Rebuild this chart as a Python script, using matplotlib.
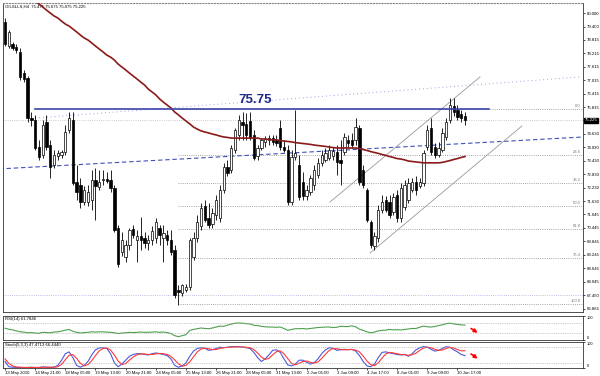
import numpy as np
import matplotlib
matplotlib.use("Agg")
import matplotlib.pyplot as plt
from matplotlib.transforms import blended_transform_factory

plt.rcParams['font.family'] = ['Liberation Sans', 'DejaVu Sans']

# H4 candles (open, high, low, close)
opens = [79.60, 78.53, 78.62, 78.49, 78.27, 77.33, 77.11, 75.33, 75.24, 74.04,
         73.69, 75.16, 74.13, 73.24, 73.64, 73.69, 73.82, 74.80, 75.24, 72.49,
         72.36, 71.60, 71.60, 71.69, 72.58, 72.27, 72.58, 72.62, 72.58, 72.22,
         70.44, 69.38, 69.16, 69.69, 70.40, 69.91, 70.09, 70.00, 69.78, 69.91,
         70.00, 70.44, 70.00, 70.13, 69.91, 69.47, 67.69, 67.56, 67.69, 67.82,
         69.16, 70.00, 70.53, 71.42, 70.89, 70.62, 71.02, 70.89, 72.13, 73.16,
         73.02, 73.91, 74.58, 75.16, 75.07, 75.20, 74.58, 73.64, 74.00, 74.27,
         74.36, 74.44, 74.36, 74.89, 74.04, 73.91, 71.60, 73.60, 73.24, 72.49,
         71.87, 72.04, 72.36, 72.80, 73.34, 73.47, 73.56, 73.64, 73.82, 73.47,
         73.82, 74.36, 74.36, 74.36, 74.89, 73.02, 72.13, 70.71, 69.64, 70.00,
         71.24, 71.69, 71.60, 71.16, 71.91, 70.89, 71.38, 71.69, 72.13, 72.49,
         72.31, 72.45, 74.04, 74.89, 74.04, 73.69, 73.91, 74.49, 75.24, 75.87,
         75.69, 75.51, 75.42]
highs = [79.78, 79.24, 78.71, 78.62, 78.44, 77.47, 77.20, 75.60, 75.47, 74.36,
         75.24, 75.47, 74.36, 73.91, 73.91, 73.91, 75.02, 75.60, 75.60, 73.24,
         72.67, 72.31, 72.36, 73.02, 73.11, 73.02, 73.02, 72.93, 73.02, 72.36,
         70.58, 70.27, 69.91, 70.44, 70.58, 70.36, 70.93, 70.27, 70.13, 70.53,
         70.89, 70.58, 70.58, 70.36, 70.36, 69.69, 67.91, 67.96, 67.96, 70.00,
         70.27, 71.02, 71.56, 71.69, 71.56, 71.34, 71.91, 72.36, 73.34, 73.47,
         74.13, 74.89, 75.47, 75.60, 75.56, 75.60, 74.80, 74.13, 74.44, 74.53,
         74.58, 74.58, 74.58, 75.24, 74.36, 74.13, 73.91, 75.69, 73.69, 72.93,
         72.36, 72.80, 73.24, 73.56, 73.91, 74.00, 74.13, 74.04, 74.13, 74.36,
         74.67, 74.58, 74.67, 75.33, 75.02, 73.24, 72.22, 70.80, 70.27, 71.47,
         71.91, 71.87, 71.91, 72.00, 72.13, 72.45, 72.58, 72.67, 72.67, 72.76,
         72.67, 73.91, 75.02, 75.33, 74.22, 74.27, 74.89, 75.33, 76.22, 76.22,
         75.91, 75.69, 75.60]
lows = [78.53, 78.44, 78.36, 78.22, 77.02, 76.93, 75.16, 74.98, 73.91, 73.47,
        73.56, 73.91, 72.67, 73.11, 73.47, 73.56, 73.69, 74.67, 72.36, 71.69,
        71.34, 71.47, 71.42, 71.24, 70.80, 72.13, 72.36, 72.45, 72.04, 70.27,
        68.71, 69.20, 68.93, 69.47, 70.00, 68.93, 69.47, 69.56, 69.47, 69.69,
        69.78, 69.69, 68.93, 69.69, 69.24, 67.34, 67.02, 67.42, 67.60, 67.69,
        69.02, 69.82, 70.36, 70.71, 70.44, 70.44, 70.80, 70.71, 72.00, 72.76,
        72.89, 73.78, 74.36, 74.36, 74.36, 74.36, 73.47, 73.47, 73.91, 74.04,
        74.13, 74.13, 74.09, 73.91, 73.82, 71.47, 71.47, 73.47, 71.69, 71.69,
        71.69, 71.91, 72.13, 72.67, 73.20, 73.38, 73.47, 73.47, 72.80, 72.36,
        73.69, 74.04, 74.00, 74.13, 72.36, 72.22, 70.71, 69.56, 69.47, 69.82,
        71.11, 71.16, 70.89, 71.02, 70.71, 70.71, 71.24, 71.56, 72.04, 71.91,
        72.22, 72.31, 73.91, 73.69, 73.56, 73.60, 73.82, 74.36, 75.11, 75.42,
        75.24, 75.16, 75.02]
closes = [78.62, 79.16, 78.44, 78.36, 77.16, 77.07, 75.33, 75.24, 74.00, 73.60,
          75.02, 74.04, 73.16, 73.69, 73.78, 73.82, 74.71, 75.33, 72.45, 72.04,
          71.60, 72.13, 72.04, 72.58, 72.31, 72.49, 72.62, 72.54, 72.22, 70.36,
          68.84, 69.91, 69.69, 70.36, 70.13, 70.09, 69.91, 69.78, 69.91, 70.31,
          70.71, 70.13, 70.22, 69.91, 69.38, 67.47, 67.60, 67.91, 67.82, 69.91,
          70.00, 70.71, 71.34, 70.80, 70.58, 71.11, 71.69, 72.13, 73.16, 72.89,
          74.00, 74.80, 75.24, 75.02, 74.58, 74.49, 73.56, 74.00, 74.36, 74.40,
          74.44, 74.27, 74.22, 74.04, 73.91, 71.60, 73.60, 73.78, 71.82, 71.87,
          72.13, 72.67, 73.02, 73.34, 73.69, 73.78, 73.91, 73.87, 73.38, 73.34,
          74.49, 74.22, 74.13, 74.93, 72.49, 72.36, 70.80, 69.69, 70.09, 71.24,
          71.60, 71.24, 71.02, 71.82, 70.89, 72.22, 72.36, 72.45, 72.49, 72.13,
          72.49, 73.78, 74.80, 73.82, 73.69, 74.00, 74.67, 75.16, 75.91, 75.60,
          75.38, 75.33, 75.225]

# moving average (dark red)
ma = [81.47, 81.33, 81.20, 81.11, 80.98, 80.84, 80.71, 80.62, 80.53, 80.40,
      80.27, 80.13, 80.00, 79.87, 79.78, 79.64, 79.51, 79.42, 79.29, 79.16,
      79.02, 78.89, 78.80, 78.67, 78.53, 78.40, 78.27, 78.13, 78.04, 77.91,
      77.73, 77.60, 77.47, 77.33, 77.20, 77.07, 76.93, 76.80, 76.62, 76.49,
      76.36, 76.18, 76.04, 75.91, 75.78, 75.60, 75.47, 75.33, 75.20, 75.07,
      74.93, 74.84, 74.76, 74.71, 74.67, 74.62, 74.58, 74.53, 74.49, 74.47,
      74.44, 74.44, 74.44, 74.44, 74.44, 74.44, 74.44, 74.44, 74.40, 74.40,
      74.38, 74.36, 74.36, 74.33, 74.31, 74.29, 74.27, 74.24, 74.22, 74.20,
      74.18, 74.16, 74.13, 74.11, 74.09, 74.07, 74.04, 74.02, 74.00, 74.00,
      74.00, 74.00, 74.00, 74.00, 73.98, 73.93, 73.89, 73.84, 73.80, 73.76,
      73.71, 73.67, 73.62, 73.58, 73.53, 73.51, 73.47, 73.42, 73.40, 73.38,
      73.36, 73.34, 73.34, 73.34, 73.34, 73.34, 73.36, 73.40, 73.44, 73.49,
      73.53, 73.58, 73.62]

rsi = [49, 45, 42, 38, 34, 33, 30, 31, 29, 28,
       32, 31, 30, 33, 34, 37, 41, 44, 36, 32,
       29, 31, 32, 34, 33, 34, 34, 33, 32, 30,
       27, 29, 30, 32, 31, 32, 33, 32, 32, 33,
       34, 32, 33, 31, 27, 18, 14, 18, 22, 40,
       44, 47, 50, 48, 47, 50, 54, 58, 57, 62,
       66, 70, 71, 70, 68, 67, 61, 60, 57, 55,
       54, 54, 53, 54, 48, 40, 44, 47, 47, 48,
       46, 48, 50, 52, 53, 54, 54, 52, 53, 57,
       56, 56, 59, 55, 45, 40, 34, 30, 33, 38,
       40, 41, 44, 42, 43, 42, 44, 46, 48, 48,
       53, 58, 55, 54, 56, 60, 63, 68, 70, 67,
       65, 63, 61.78]

stoch_k = [25, 5, 3, 2, 2, 2, 2, 3, 2, 2,
           4, 3, 2, 3, 10, 30, 55, 62, 40, 10,
           3, 10, 25, 50, 70, 77, 78, 75, 55, 20,
           5, 15, 30, 45, 52, 55, 55, 52, 50, 55,
           58, 55, 52, 48, 35, 10, 3, 8, 20, 45,
           65, 75, 78, 76, 68, 70, 75, 80, 78, 80,
           82, 82, 82, 80, 78, 75, 60, 40, 25, 35,
           50, 68, 70, 60, 35, 12, 8, 15, 30, 30,
           22, 15, 20, 35, 55, 70, 78, 76, 68, 70,
           72, 70, 72, 65, 48, 25, 8, 5, 15, 40,
           60, 62, 58, 55, 52, 50, 52, 45, 55, 70,
           78, 82, 80, 72, 65, 68, 75, 82, 80, 70,
           62, 52, 47.47]
stoch_d = [35, 18, 8, 4, 3, 2, 2, 2, 2, 2,
           3, 3, 3, 3, 5, 14, 32, 49, 52, 37,
           18, 8, 13, 28, 48, 66, 75, 77, 69, 50,
           27, 13, 17, 30, 42, 51, 54, 54, 52, 52,
           54, 56, 55, 52, 45, 31, 16, 7, 10, 24,
           43, 62, 73, 76, 74, 71, 71, 75, 78, 79,
           80, 81, 81, 81, 80, 78, 71, 58, 42, 33,
           37, 51, 63, 66, 55, 36, 18, 12, 18, 25,
           27, 22, 19, 23, 37, 53, 68, 75, 74, 71,
           70, 71, 71, 69, 62, 46, 27, 13, 9, 20,
           38, 54, 60, 58, 55, 52, 51, 49, 51, 57,
           68, 77, 80, 78, 72, 68, 69, 75, 79, 77,
           71, 66, 66.44]

time_labels = ["13 May 2010", "14 May 21:00", "18 May 05:00", "19 May 13:00",
               "20 May 21:00", "24 May 05:00", "25 May 13:00", "26 May 21:00",
               "28 May 05:00", "31 May 13:00", "2 Jun 01:00", "3 Jun 09:00",
               "4 Jun 17:00", "8 Jun 01:00", "9 Jun 09:00", "10 Jun 17:00"]
price_ticks = [80.000, 79.400, 78.815, 78.215, 77.615, 77.015, 76.415, 75.815,
               74.630, 74.030, 73.430, 72.830, 72.230, 71.630, 71.045, 70.445,
               69.845, 69.245, 68.645, 68.045, 67.450, 66.865]

fib_high = 75.75
fib_low = 67.08
fib_ratios = [0.0, 23.6, 38.2, 50.0, 61.8, 76.4, 100.0]

# trend lines: (bar, price) pairs
blue_trend = ([-1.5, 153.5], [73.07, 74.49])
light_trend = ([8, 152.5], [75.33, 77.16])
channel_up = ([86.2, 126.0], [71.60, 77.16])
channel_dn = ([96.8, 137.1], [69.33, 74.98])
bid = 75.225

n = len(closes)
x = np.arange(n)
o = np.array(opens); c = np.array(closes)
h = np.array(highs); l = np.array(lows)

fig = plt.figure(figsize=(6, 3.76), dpi=100)
ax = fig.add_axes([3/600, 1 - 312/376, 580/600, 309/376])
ax_rsi = fig.add_axes([3/600, 1 - 340/376, 580/600, 24/376])
ax_st = fig.add_axes([3/600, 1 - 368/376, 580/600, 26/376])

xl = (-0.53, 153.3)
dot = (0, (1, 1.6))
fs = 3.1   # tiny MT4 style labels

# --- main price panel ---
ax.set_xlim(*xl)
ax.set_ylim(66.71, 80.445)

# fibonacci levels
for r in fib_ratios:
    lv = fib_high - (fib_high - fib_low) * r / 100
    ax.plot([46, xl[1]], [lv, lv], color='#888888', lw=0.6, ls=dot, zorder=1)
    ax.text(152.6, lv + 0.03, "%.1f" % r, ha='right', va='bottom',
            fontsize=3.0, color='#777777')

ax.axhline(bid, color='#bbbbbb', lw=0.6, ls=dot, zorder=1)
ax.axhline(67.47, color='#aaaadd', lw=0.6, ls=dot, zorder=1)

ax.plot(*light_trend, color='#a0a0e0', lw=0.7, ls=(0, (1, 3)), zorder=1)
ax.plot(*blue_trend, color='#4050b8', lw=0.8, ls=(0, (4, 2.5)), zorder=2)
ax.plot(*channel_up, color='#999999', lw=0.6, zorder=2)
ax.plot(*channel_dn, color='#999999', lw=0.6, zorder=2)

# candles
ax.vlines(x, l, h, color='black', lw=0.6, zorder=3)
up = c >= o
bw = 0.62
ax.bar(x[up], np.maximum(c[up] - o[up], 0.015), bottom=o[up], width=bw,
       color='white', edgecolor='black', lw=0.5, zorder=4)
ax.bar(x[~up], np.maximum(o[~up] - c[~up], 0.015), bottom=c[~up], width=bw,
       color='black', edgecolor='black', lw=0.5, zorder=4)

ax.plot(x, ma, color='#8b1a1a', lw=1.2, zorder=5)

# 75.75 resistance
ax.plot([8, 128.5], [fib_high, fib_high], color='#3a44a8', lw=1.2, zorder=5)
ax.text(62, 75.87, "75.75", color='#1f2a80', fontsize=9.5, fontweight='bold',
        ha='left', va='bottom')

ax.text(0.004, 0.995, "OILSLLS,H4  75.475 75.675 75.075 75.225",
        transform=ax.transAxes, fontsize=fs, va='top', ha='left')

ax.yaxis.tick_right()
ax.set_yticks(price_ticks)
ax.set_yticklabels(["%.3f" % p for p in price_ticks])
ax.tick_params(axis='y', labelsize=fs, length=1.5, width=0.5, pad=1)
ax.set_xticks([])
tr = blended_transform_factory(ax.transAxes, ax.transData)
ax.text(1.003, bid, "75.225", transform=tr, fontsize=fs, color='white',
        va='center', ha='left',
        bbox=dict(boxstyle='square,pad=0.12', fc='black', ec='black'))
ax.spines['top'].set_linestyle(dot)
ax.spines['top'].set_color('#888888')
for s in ['left', 'right', 'bottom']:
    ax.spines[s].set_linewidth(0.6)
    ax.spines[s].set_color('#333333')

# --- RSI panel ---
ax_rsi.set_xlim(*xl)
ax_rsi.set_ylim(0, 100)
ax_rsi.plot(x, rsi, color='#4f9f4f', lw=0.8)
for lv in (70, 30):
    ax_rsi.axhline(lv, color='#999999', lw=0.5, ls=dot)
ax_rsi.text(0.004, 0.96, "RSI(14) 61.7846", transform=ax_rsi.transAxes,
            fontsize=fs, va='top')
ax_rsi.annotate("", xy=(126, 24), xytext=(123, 54),
                arrowprops=dict(arrowstyle='-|>', color='red', lw=1.2,
                                mutation_scale=5))

# --- Stochastic panel ---
ax_st.set_xlim(*xl)
ax_st.set_ylim(0, 100)
ax_st.plot(x, stoch_k, color='#4a5ad8', lw=0.8)
ax_st.plot(x, stoch_d, color='#ff3a3a', lw=0.8)
for lv in (80, 20):
    ax_st.axhline(lv, color='#999999', lw=0.5, ls=dot)
ax_st.text(0.004, 0.96, "Stoch(5,3,3) 47.4713 66.4440", transform=ax_st.transAxes,
           fontsize=fs, va='top')
ax_st.annotate("", xy=(126, 30), xytext=(123, 60),
               arrowprops=dict(arrowstyle='-|>', color='red', lw=1.2,
                               mutation_scale=5))
ax_st.set_xticks(np.arange(len(time_labels)) * 8)
ax_st.set_xticklabels(time_labels, ha='left')
ax_st.tick_params(axis='x', labelsize=fs, length=1.5, width=0.5, pad=1)

for a in (ax_rsi, ax_st):
    a.yaxis.tick_right()
    a.set_yticks([100, 0])
    a.set_yticklabels(["100", "0"])
    a.tick_params(axis='y', labelsize=2.8, length=1.5, width=0.5, pad=1)
    lab = a.get_yticklabels()
    lab[0].set_va('top')
    lab[1].set_va('bottom')
    for s in a.spines.values():
        s.set_linewidth(0.6)
        s.set_color('#333333')
ax_rsi.set_xticks([])

fig.savefig("out.png", dpi=100)
